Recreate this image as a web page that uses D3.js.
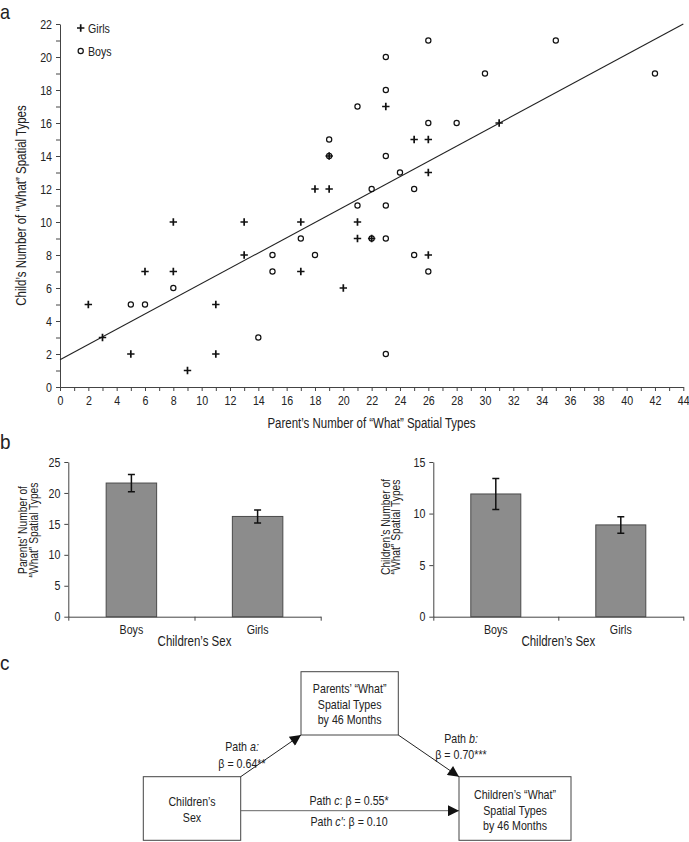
<!DOCTYPE html>
<html><head><meta charset="utf-8">
<script src="https://cdn.jsdelivr.net/npm/d3@7/dist/d3.min.js"></script>
<style>
body{margin:0;background:#fff;}
svg{display:block;font-family:"Liberation Sans",Arial,sans-serif;}
text{fill:#222;}
</style></head><body>
<svg id="c" width="689" height="842"></svg>
<script>
// ---- Panel a data ----
const girlsX = [23,25,26,26,18,19,31,8,13,13,6,8,2,11,3,5,11,9,17,21,21,26,17,20,19,22];
const girlsY = [17,15,15,13,12,12,16,10,10,8,7,7,5,5,3,2,2,1,10,10,9,8,7,6,14,9];
const boysX = [26,23,23,21,26,28,19,23,24,22,25,35,30,42,8,5,6,21,23,17,23,15,18,25,15,26,14,23,19,22];
const boysY = [21,20,18,17,16,16,15,14,13,12,12,21,19,19,6,5,5,11,11,9,9,8,8,8,7,7,3,2,14,9];
const fitLine = [[0,1.65],[44,22]];
const xTicksA = d3.range(0,45,1);
const yTicksA = d3.range(0,23,1);

// ---- Panel b data ----
const sexCats = ["Boys","Girls"];
const parentMeans = [21.6,16.2];
const parentErr = [1.4,1.05];
const childMeans = [11.9,8.9];
const childErr = [1.5,0.8];
const parentTicks = [0,5,10,15,20,25];
const childTicks = [0,5,10,15];

// ---- Panel c text ----
const boxSex = ["Children’s","Sex"];
const boxParent = ["Parents’ “What”","Spatial Types","by 46 Months"];
const boxChild = ["Children’s “What”","Spatial Types","by 46 Months"];

const svg = d3.select("#c");
const FS = 13;
const SX = 0.82; // horizontal condensing (narrow sans look)

function T(parent, x, y, opts={}){
  const rot = opts.rotate ? ` rotate(${opts.rotate})` : "";
  const g = parent.append("g").attr("transform",`translate(${x},${y})${rot} scale(${opts.sx||SX},1)`);
  const t = g.append("text").attr("x",0).attr("y",0)
    .attr("text-anchor",opts.anchor||"start").attr("font-size",opts.fs||FS);
  if(opts.text!==undefined) t.text(opts.text);
  return t;
}
function styleAxis(a, left){
  a.selectAll("path,line").attr("stroke","#444");
  a.selectAll("text").attr("font-size",FS).attr("font-family","inherit").attr("fill","#222")
    .attr("transform",`scale(${SX},1)`);
  if(left) a.selectAll("text").attr("x",-8/SX);
}

// ---------- Panel a ----------
const xA = d3.scaleLinear().domain([0,44]).range([60,683.3]);
const yA = d3.scaleLinear().domain([0,22]).range([387,24]);

T(svg,0,18.5,{fs:20,sx:0.9,text:"a"});

const axA = svg.append("g").attr("transform",`translate(0,${yA(0)})`)
  .call(d3.axisBottom(xA).tickValues(xTicksA).tickSize(4).tickSizeOuter(0)
    .tickFormat(d=>d%2===0?d:""));
const ayA = svg.append("g").attr("transform",`translate(${xA(0)},0)`)
  .call(d3.axisLeft(yA).tickValues(yTicksA).tickSize(4).tickSizeOuter(0)
    .tickFormat(d=>d%2===0?d:""));
styleAxis(axA,false); styleAxis(ayA,true);
axA.selectAll("text").attr("y",9);

T(svg,371.5,428,{anchor:"middle",fs:14,text:"Parent’s Number of “What” Spatial Types"});
T(svg,26,205.5,{anchor:"middle",fs:14,rotate:-90,text:"Child’s Number of “What” Spatial Types"});

svg.append("line")
  .attr("x1",xA(fitLine[0][0])).attr("y1",yA(fitLine[0][1]))
  .attr("x2",xA(fitLine[1][0])).attr("y2",yA(fitLine[1][1]))
  .attr("stroke","#222").attr("stroke-width",1.1);

function plus(g,cx,cy){
  g.append("path").attr("d",`M${cx-3.7},${cy}H${cx+3.7}M${cx},${cy-3.7}V${cy+3.7}`)
   .attr("stroke","#111").attr("stroke-width",1.7);
}
function circ(g,cx,cy){
  g.append("circle").attr("cx",cx).attr("cy",cy).attr("r",2.6)
   .attr("fill","#fff").attr("stroke","#111").attr("stroke-width",1.2);
}
const pts = svg.append("g");
boysX.forEach((x,i)=>circ(pts,xA(x),yA(boysY[i])));
girlsX.forEach((x,i)=>plus(pts,xA(x),yA(girlsY[i])));

plus(svg,80.7,28); T(svg,88,32.5,{text:"Girls"});
circ(svg,80.7,51); T(svg,88,55.5,{text:"Boys"});

// ---------- Panel b ----------
T(svg,0,449,{fs:21,sx:0.9,text:"b"});

function barChart(opt){
  const {x0,x1,means,errs,dmax,ticks,title,titleX,titleY} = opt;
  const y = d3.scaleLinear().domain([0,dmax]).range([616.7,462]);
  const xb = d3.scaleBand().domain(sexCats).range([x0,x1]);
  const xl = d3.scaleLinear().domain([0,2]).range([x0,x1]);
  const g = svg.append("g");
  const ay = g.append("g").attr("transform",`translate(${x0},0)`)
    .call(d3.axisLeft(y).tickValues(ticks).tickSize(4).tickSizeOuter(0));
  const ax = g.append("g").attr("transform",`translate(0,${y(0)})`)
    .call(d3.axisBottom(xl).tickValues([0,1,2]).tickSize(4).tickSizeOuter(0).tickFormat(""));
  styleAxis(ay,true); styleAxis(ax,false);
  const bw = xb.bandwidth()*0.4;
  g.selectAll("rect.bar").data(means).join("rect")
    .attr("x",(d,i)=>xb(sexCats[i])+xb.bandwidth()/2-bw/2)
    .attr("y",d=>y(d)).attr("width",bw).attr("height",d=>y(0)-y(d))
    .attr("fill","#8c8c8c").attr("stroke","#4a4a4a").attr("stroke-width",1);
  means.forEach((m,i)=>{
    const cx = xb(sexCats[i])+xb.bandwidth()/2;
    const t = y(m+errs[i]), b = y(m-errs[i]);
    g.append("path").attr("d",`M${cx},${t}V${b}M${cx-3.5},${t}H${cx+3.5}M${cx-3.5},${b}H${cx+3.5}`)
      .attr("stroke","#111").attr("stroke-width",1.5).attr("fill","none");
    T(g,cx,634,{anchor:"middle",text:sexCats[i]});
  });
  T(g,(x0+x1)/2,646,{anchor:"middle",fs:14,text:"Children’s Sex"});
  const tt = T(g,titleX,titleY,{anchor:"middle",rotate:-90,fs:12.5});
  tt.append("tspan").attr("x",0).attr("dy",0).text(title[0]);
  tt.append("tspan").attr("x",0).attr("dy",11).text(title[1]);
}
barChart({x0:68.3,x1:320.7,means:parentMeans,errs:parentErr,dmax:25,ticks:parentTicks,
  title:["Parents’ Number of","“What” Spatial Types"],titleX:27,titleY:530});
barChart({x0:433.3,x1:683.3,means:childMeans,errs:childErr,dmax:15,ticks:childTicks,
  title:["Children’s Number of","“What” Spatial Types"],titleX:389.5,titleY:527});

// ---------- Panel c ----------
T(svg,0,670,{fs:21,sx:0.9,text:"c"});

const defs = svg.append("defs");
defs.append("marker").attr("id","arr").attr("viewBox","0 0 10 10").attr("refX",10).attr("refY",5)
  .attr("markerWidth",16).attr("markerHeight",11).attr("markerUnits","userSpaceOnUse")
  .attr("orient","auto").append("path").attr("d","M0,0L10,5L0,10Z").attr("fill","#111");

function box(x,y,w,h,lines,ty0,dy){
  svg.append("rect").attr("x",x).attr("y",y).attr("width",w).attr("height",h)
    .attr("fill","#fff").attr("stroke","#444").attr("stroke-width",1);
  lines.forEach((l,i)=>T(svg,x+w/2,ty0+i*dy,{anchor:"middle",text:l}));
}
box(143.3,776.7,97.4,63.6,boxSex,806,15.5);
box(301,671.7,97.3,63.3,boxParent,693,15.5);
box(459,776.7,112,63.6,boxChild,799,15.5);

svg.append("line").attr("x1",240.7).attr("y1",776.7).attr("x2",301).attr("y2",735)
  .attr("stroke","#222").attr("stroke-width",1).attr("marker-end","url(#arr)");
svg.append("line").attr("x1",398.3).attr("y1",735).attr("x2",459).attr("y2",776.7)
  .attr("stroke","#222").attr("stroke-width",1).attr("marker-end","url(#arr)");
svg.append("line").attr("x1",240.7).attr("y1",810.7).attr("x2",459).attr("y2",810.7)
  .attr("stroke","#666").attr("stroke-width",1).attr("marker-end","url(#arr)");

function richText(x,y,parts){
  const t = T(svg,x,y,{anchor:"middle"});
  parts.forEach(p=>{const s=t.append("tspan").text(p[0]); if(p[1]) s.attr("font-style","italic");});
}
richText(242,751,[["Path "],["a:",true]]);
richText(242,767.5,[["β = 0.64**"]]);
richText(461,742.5,[["Path "],["b:",true]]);
richText(461,758.5,[["β = 0.70***"]]);
richText(349,804.5,[["Path "],["c",true],[": β = 0.55*"]]);
richText(349,826,[["Path "],["c′",true],[": β = 0.10"]]);
</script>
</body></html>
